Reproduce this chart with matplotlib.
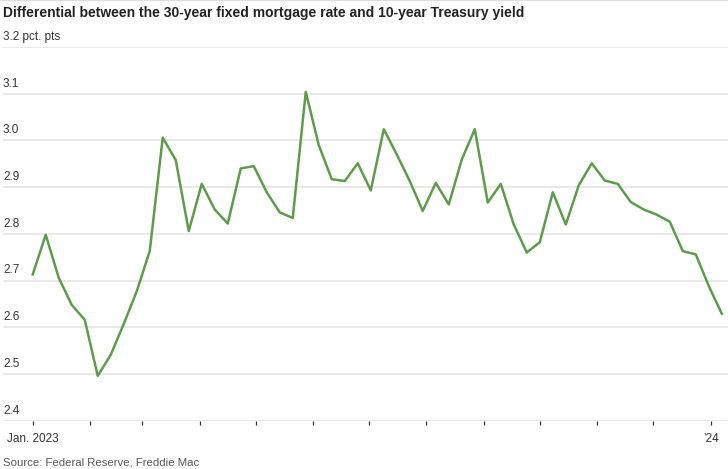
import pandas as pd
import numpy as np
import matplotlib
matplotlib.use("Agg")
import matplotlib.pyplot as plt
import matplotlib.transforms as mtransforms

# weekly spread, pct. pts
start_date = "2023-01-01"
spread = [2.713, 2.798, 2.706, 2.648, 2.616, 2.496, 2.541, 2.607, 2.677, 2.763,
          3.006, 2.958, 2.806, 2.907, 2.852, 2.822, 2.940, 2.945, 2.889, 2.846,
          2.834, 3.104, 2.990, 2.917, 2.913, 2.951, 2.893, 3.024, 2.970, 2.913,
          2.849, 2.909, 2.863, 2.959, 3.024, 2.867, 2.907, 2.820, 2.760, 2.782,
          2.889, 2.820, 2.904, 2.951, 2.914, 2.907, 2.868, 2.852, 2.841, 2.826,
          2.763, 2.756, 2.688, 2.629]
y_ticks = [2.4, 2.5, 2.6, 2.7, 2.8, 2.9, 3.0, 3.1, 3.2]
y_labels = ["2.4", "2.5", "2.6", "2.7", "2.8", "2.9", "3.0", "3.1", "3.2 pct. pts"]
x_labels = {"2023-01-01": "Jan. 2023", "2024-01-01": "\u201924"}

title = "Differential between the 30-year fixed mortgage rate and 10-year Treasury yield"
source = "Source: Federal Reserve, Freddie Mac"

FONT = ["Liberation Sans Narrow", "Liberation Sans", "DejaVu Sans"]
plt.rcParams["font.family"] = FONT

dates = pd.date_range(start_date, periods=len(spread), freq="7D")

fig = plt.figure(figsize=(7.28, 4.69), dpi=100)
ax = fig.add_axes([3 / 728, 48.3 / 469, 725 / 728, 373.7 / 469])

for y in y_ticks:
    ax.axhline(y, color="#e3e3e3", lw=1.1, zorder=1)

ax.plot(dates, spread, color="#5e9c4c", lw=1.8, zorder=3)

ax.set_ylim(2.4, 3.2)
ax.set_xlim(pd.Timestamp("2022-12-16"), pd.Timestamp("2024-01-10 08:00"))
ax.set_yticks([])

months = pd.date_range("2023-01-01", "2024-01-01", freq="MS")
ax.set_xticks(months)
ax.set_xticklabels([x_labels.get(m.strftime("%Y-%m-%d"), "") for m in months],
                   fontsize=8.5, color="#333333")
ax.tick_params(axis="x", length=3, width=0.9, color="#333333", pad=6)

for s in ax.spines.values():
    s.set_visible(False)

trans = mtransforms.blended_transform_factory(ax.transAxes, ax.transData)
for y, lab in zip(y_ticks, y_labels):
    ax.annotate(lab, xy=(0, y), xycoords=trans, xytext=(0, 3),
                textcoords="offset points", ha="left", va="bottom",
                fontsize=8.5, color="#333333")

fig.text(3 / 728, 1 - 13 / 469, title, fontsize=10, fontweight="bold",
         color="#222222", ha="left", va="center")
fig.text(3 / 728, 1 - 462 / 469, source, fontsize=8.2, color="#555555",
         ha="left", va="center")
fig.add_artist(plt.Line2D([0, 1], [1 - 0.5 / 469, 1 - 0.5 / 469],
                          transform=fig.transFigure, color="#dddddd", lw=1.5))

fig.savefig("out.png", dpi=100)
